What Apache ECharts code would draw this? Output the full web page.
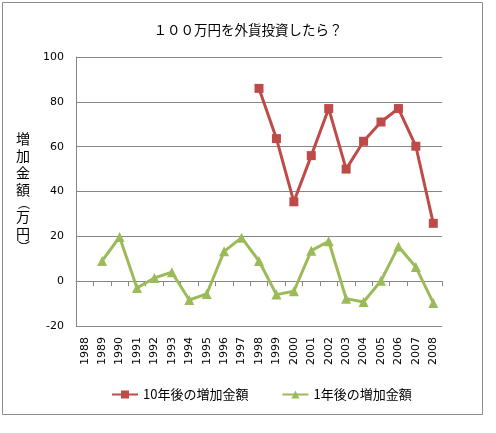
<!DOCTYPE html>
<html>
<head>
<meta charset="utf-8">
<script src="https://cdn.jsdelivr.net/npm/echarts@6/dist/echarts.min.js"></script>
<style>
  html, body { margin: 0; padding: 0; background: #fff; }
  #chart { width: 496px; height: 433px; }
</style>
</head>
<body>
<div id="chart"></div>
<script>
// 年
const years = ['1988','1989','1990','1991','1992','1993','1994','1995','1996','1997','1998',
  '1999','2000','2001','2002','2003','2004','2005','2006','2007','2008']
// 10年後の増加金額
const after10 = [null,null,null,null,null,null,null,null,null,null,86,
  63.6,35.4,56,77,50,62.4,71,77,60.2,25.8]
// 1年後の増加金額
const after1 = [null,9,19.7,-3,1.4,4,-8.4,-5.7,13.3,19.4,9,
  -6,-4.5,13.6,17.8,-7.8,-9.3,0.2,15.5,6.3,-9.7]

const font = '"Noto Sans CJK JP", "DejaVu Sans", sans-serif'
const numFont = '"DejaVu Sans", sans-serif'
const chart = echarts.init(document.getElementById('chart'), null, { renderer: 'canvas' })

// 縦書きの軸タイトル
const yName = ['{c|増}', '{c|加}', '{c|金}', '{c|額}', '{p|︵}', '{c|万}', '{c|円}', '{p|︶}'].join('\n')

chart.setOption({
  animation: false,
  backgroundColor: '#fff',
  graphic: [{
    type: 'rect',
    shape: { x: 2.5, y: 2.5, width: 480, height: 412 },
    style: { fill: 'none', stroke: '#8c8c8c', lineWidth: 1 }
  }],
  title: {
    text: '１００万円を外貨投資したら？',
    left: 'center',
    top: 18,
    textStyle: { fontFamily: font, fontSize: 13.5, fontWeight: 'normal', color: '#000' }
  },
  legend: {
    top: 383,
    left: 106,
    itemGap: 33,
    itemWidth: 26,
    itemHeight: 10,
    textStyle: { fontFamily: font, fontSize: 13, color: '#000' },
    data: ['10年後の増加金額', '1年後の増加金額']
  },
  grid: { left: 76, right: 54, top: 57, bottom: 107 },
  xAxis: {
    type: 'category',
    data: years,
    boundaryGap: true,
    axisLine: { onZero: true, lineStyle: { color: '#868686' } },
    axisTick: { show: true, length: 5, lineStyle: { color: '#868686' } },
    axisLabel: {
      interval: 0,
      rotate: 90,
      fontFamily: numFont,
      fontSize: 11,
      color: '#000',
      margin: 11
    }
  },
  yAxis: {
    type: 'value',
    min: -20,
    max: 100,
    interval: 20,
    name: yName,
    nameLocation: 'middle',
    nameGap: 46,
    nameRotate: 0,
    nameTextStyle: {
      rich: {
        c: { fontFamily: font, fontSize: 14, color: '#000', lineHeight: 17 },
        p: { fontFamily: font, fontSize: 12, color: '#000', lineHeight: 10 }
      }
    },
    axisLine: { show: true, lineStyle: { color: '#868686' } },
    axisTick: { show: false },
    axisLabel: { fontFamily: numFont, fontSize: 11, color: '#000', margin: 12 },
    splitLine: { lineStyle: { color: '#868686' } }
  },
  series: [
    {
      name: '10年後の増加金額',
      type: 'line',
      data: after10,
      symbol: 'rect',
      symbolSize: 9,
      color: '#BE4B48',
      lineStyle: { width: 3, color: '#BE4B48' },
      itemStyle: { color: '#BE4B48' }
    },
    {
      name: '1年後の増加金額',
      type: 'line',
      data: after1,
      symbol: 'triangle',
      symbolSize: 10,
      color: '#9BBB59',
      lineStyle: { width: 3, color: '#9BBB59' },
      itemStyle: { color: '#9BBB59' }
    }
  ]
})
</script>
</body>
</html>
